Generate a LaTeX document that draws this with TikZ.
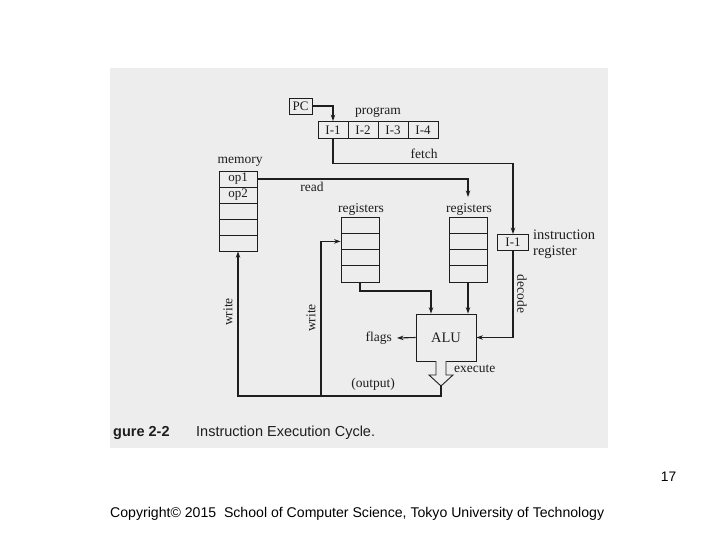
\documentclass[tikz,border=0pt]{standalone}
\usepackage{fontspec}
\setmainfont{Liberation Serif}
\newfontfamily\arialf{Liberation Sans}
\usetikzlibrary{arrows.meta}
\definecolor{bggray}{HTML}{EDEDED}
\definecolor{inkc}{HTML}{1E1E1E}
\begin{document}
\begin{tikzpicture}[x=1pt,y=-1pt,
  ln/.style={draw=inkc, line width=1.1pt},
  arr/.style={ln, -{Stealth[length=6.5pt,width=4.5pt]}},
  cell/.style={draw=inkc, line width=0.8pt, fill=bggray, minimum width=38pt,
    minimum height=16pt, inner sep=0pt, text=inkc, font=\fontsize{13}{13}\selectfont},
  lbl/.style={font=\fontsize{13.5}{13.5}\selectfont, text=inkc, inner sep=0pt},
]
\useasboundingbox (0,0) rectangle (720,540);
\fill[white] (0,0) rectangle (720,540);
\fill[bggray] (110,68) rectangle (608,448);

% PC and program
\node[cell, minimum width=23pt] (pc) at (300.5,106) {PC};
\node[lbl] (prog) at (378,112) {program};
\node[cell, minimum width=30pt, minimum height=17pt] (i1) at (333,130) {I-1};
\node[cell, minimum width=30pt, minimum height=17pt] (i2) at (363,130) {I-2};
\node[cell, minimum width=30pt, minimum height=17pt] (i3) at (393,130) {I-3};
\node[cell, minimum width=30pt, minimum height=17pt] (i4) at (423,130) {I-4};
\node[lbl] (fetch) at (424,154) {fetch};

% memory
\node[lbl] (mem) at (240,162) {memory};
\node[cell] (m1) at (238,179) {op1};
\node[cell] (m2) at (238,195) {op2};
\node[cell] (m3) at (238,211) {};
\node[cell] (m4) at (238,227) {};
\node[cell] (m5) at (238,243) {};
\node[lbl] (read) at (312,187) {read};

% registers
\node[lbl] (lregl) at (361,209) {registers};
\node[cell, minimum height=16.25pt] (l1) at (360,225.1) {};
\node[cell, minimum height=16.25pt] (l2) at (360,241.4) {};
\node[cell, minimum height=16.25pt] (l3) at (360,257.6) {};
\node[cell, minimum height=16.25pt] (l4) at (360,273.9) {};
\node[lbl] (rregl) at (469,209) {registers};
\node[cell, minimum height=16.25pt] (r1) at (468,225.1) {};
\node[cell, minimum height=16.25pt] (r2) at (468,241.4) {};
\node[cell, minimum height=16.25pt] (r3) at (468,257.6) {};
\node[cell, minimum height=16.25pt] (r4) at (468,273.9) {};

% instruction register
\node[cell, minimum width=31pt] (ir) at (513,242.5) {I-1};
\node[lbl, anchor=west, font=\fontsize{14.5}{14.5}\selectfont] (instr) at (533,235) {instruction};
\node[lbl, anchor=west, font=\fontsize{14.5}{14.5}\selectfont] (regt) at (533,252) {register};
\node[lbl, rotate=-90] (dec) at (522,294) {decode};

% ALU
\node[cell, minimum width=60pt, minimum height=47pt, font=\fontsize{14.5}{14.5}\selectfont] (alu) at (446,337.5) {ALU};
\node[lbl, anchor=east] (flg) at (392,338) {flags};
\node[lbl, anchor=west] (exe) at (454,369) {execute};
\node[lbl] (outp) at (373,384) {(output)};
\node[lbl, rotate=90] (w1) at (228,312) {write};
\node[lbl, rotate=90] (w2) at (311,318) {write};

% connectors
\coordinate (rd) at (468,197);
\coordinate (ain) at (431,291);
\coordinate (otip) at (441,386);
\coordinate (ob) at (441,396);
\coordinate (wb) at (321,396);

\draw[arr] (pc.east) -| (i1.north);
\draw[arr] (i1.south) -- ++(0,24.5) -| (ir.north);
\draw[arr] (m1.east) -| (rd);
\draw[arr] (l4.south) |- (ain) -- (ain |- alu.north);
\draw[arr] (r4.south) -- (r4.south |- alu.north);
\draw[arr] (ir.south) |- (alu.east);
\draw[arr] (alu.west) -- ([xshift=5pt]flg.east);
\draw[ln, fill=bggray, line width=0.9pt] (436,361) -- (436,375) -- (429,375) -- (otip) -- (453,375) -- (446,375) -- (446,361);
\draw[arr] (otip) -- (ob) -| (m5.south);
\draw[arr] (wb) |- (l2.west);

% caption and footer
\node[anchor=west, inner sep=0pt, text=inkc, font=\arialf\bfseries\fontsize{14.5}{14.5}\selectfont] (capn) at (113,433) {gure 2-2};
\node[anchor=west, inner sep=0pt, text=inkc, font=\arialf\fontsize{14.5}{14.5}\selectfont] (capt) at (196,433) {Instruction Execution Cycle.};
\node[anchor=west, inner sep=0pt, font=\arialf\fontsize{14.1}{14.1}\selectfont] (copy) at (110,514) {Copyright\textcopyright{} 2015\ \ School of Computer Science, Tokyo University of Technology};
\node[inner sep=0pt, font=\arialf\fontsize{13.8}{13.8}\selectfont] (pg) at (668.5,477) {17};
\end{tikzpicture}
\end{document}
